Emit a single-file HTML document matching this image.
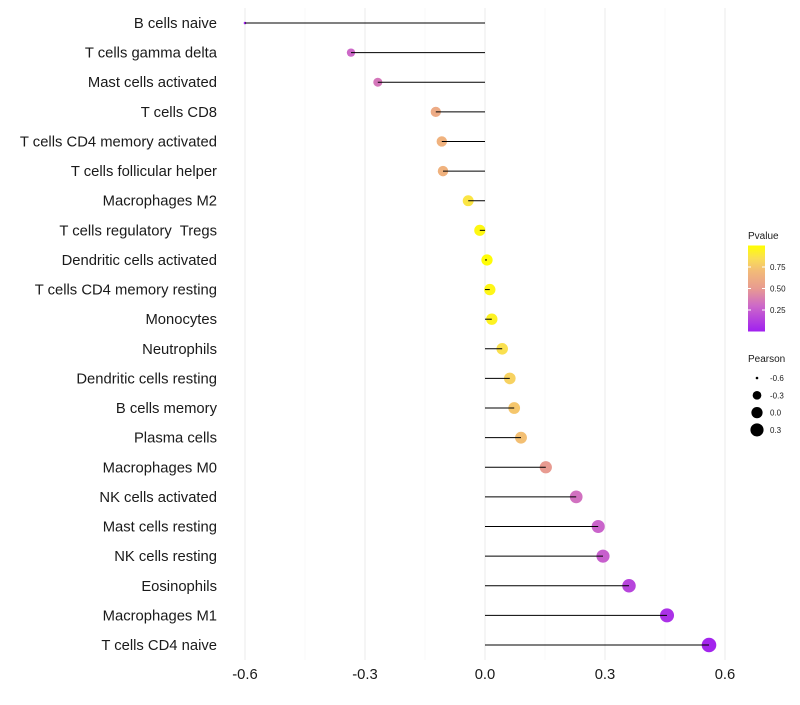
<!DOCTYPE html>
<html><head><meta charset="utf-8"><style>
body{margin:0;background:#fff;font-family:"Liberation Sans",sans-serif;}
text{white-space:pre;}
</style></head><body>
<svg id="chart" width="800" height="700" xmlns="http://www.w3.org/2000/svg"></svg>
<script>
const categories=["B cells naive","T cells gamma delta","Mast cells activated","T cells CD8","T cells CD4 memory activated","T cells follicular helper","Macrophages M2","T cells regulatory  Tregs","Dendritic cells activated","T cells CD4 memory resting","Monocytes","Neutrophils","Dendritic cells resting","B cells memory","Plasma cells","Macrophages M0","NK cells activated","Mast cells resting","NK cells resting","Eosinophils","Macrophages M1","T cells CD4 naive"];
const pearson=[-0.6,-0.335,-0.268,-0.123,-0.108,-0.105,-0.042,-0.013,0.005,0.012,0.017,0.043,0.062,0.073,0.09,0.152,0.228,0.283,0.295,0.36,0.455,0.56];
const pvalue=[0.0,0.3,0.35,0.6,0.65,0.65,0.88,0.97,0.99,0.96,0.94,0.86,0.8,0.75,0.72,0.5,0.33,0.28,0.26,0.15,0.07,0.02];
const xTicks=[-0.6,-0.3,0.0,0.3,0.6];
const xTickLabels=["-0.6","-0.3","0.0","0.3","0.6"];
const pTicks=[0.25,0.5,0.75];
const pTickLabels=["0.25","0.50","0.75"];
const sizeLegend=[-0.6,-0.3,0.0,0.3];
const sizeLegendLabels=["-0.6","-0.3","0.0","0.3"];

const svg=document.getElementById('chart');
const NS="http://www.w3.org/2000/svg";
function el(t,a,p){const e=document.createElementNS(NS,t);for(const k in a)e.setAttribute(k,a[k]);(p||svg).appendChild(e);return e;}
const x=v=>485+v*400;
const y=i=>23+i*(622/21);
const r=v=>1.3+6*Math.sqrt(Math.max(0,(v+0.6)/1.16));
const stops=[[0,[160,32,240]],[0.3,[205,105,200]],[0.5,[232,155,145]],[0.7,[242,186,120]],[0.85,[250,222,85]],[1,[255,255,0]]];
function col(p){p=Math.max(0,Math.min(1,p));let k=0;while(k<stops.length-2&&p>stops[k+1][0])k++;const a=stops[k],b=stops[k+1];
 const t=(p-a[0])/(b[0]-a[0]);const c=a[1].map((v,j)=>Math.round(v+(b[1][j]-v)*t));return `rgb(${c.join(',')})`;}

const g=el('g',{});

for(let k=-4;k<=4;k++){const v=k*0.15;const major=k%2===0;
 const gl=el('line',{x1:x(v),x2:x(v),y1:8,y2:660,stroke:major?'#ebebeb':'#f4f4f4','stroke-width':major?1:0.6},g);
 }
categories.forEach((c,i)=>{
 const t=el('text',{x:217,y:y(i)+5,'text-anchor':'end','font-size':14.8,fill:'#1a1a1a'});t.textContent=c;
 
 const d=el('circle',{cx:x(pearson[i]),cy:y(i),r:r(pearson[i]),fill:col(pvalue[i])});
 
 const l=el('line',{x1:x(0),x2:x(pearson[i]),y1:y(i),y2:y(i),stroke:'#000','stroke-width':1});
 
});
xTicks.forEach((v,i)=>{const t=el('text',{x:x(v),y:679,'text-anchor':'middle','font-size':14.8,fill:'#1a1a1a'});t.textContent=xTickLabels[i];
 });
const lg=el('g',{});
const tt=el('text',{x:748,y:239,'font-size':10,fill:'#1a1a1a'},lg);tt.textContent="Pvalue";
const defs=el('defs',{});const gr=el('linearGradient',{id:'pg',x1:0,y1:1,x2:0,y2:0},defs);
stops.forEach(s=>el('stop',{offset:s[0],'stop-color':col(s[0])},gr));
const cb=el('rect',{x:748,y:245.5,width:17,height:86,fill:'url(#pg)'},lg);

const py=p=>331.5-p*86;
pTicks.forEach((p,i)=>{el('line',{x1:748,x2:751,y1:py(p),y2:py(p),stroke:'#fff'},lg);el('line',{x1:762,x2:765,y1:py(p),y2:py(p),stroke:'#fff'},lg);
 const t=el('text',{x:770,y:py(p)+3,'font-size':8,fill:'#1a1a1a'},lg);t.textContent=pTickLabels[i];
 });
const sg=el('g',{});
const st=el('text',{x:748,y:362,'font-size':10,fill:'#1a1a1a'},sg);st.textContent="Pearson";
sizeLegend.forEach((v,i)=>{const cy=378+i*17.3;
 const c=el('circle',{cx:757,cy:cy,r:r(v),fill:'#000'},sg);
 const t=el('text',{x:770,y:cy+3,'font-size':8,fill:'#1a1a1a'},sg);t.textContent=sizeLegendLabels[i];
 });
</script>
</body></html>
